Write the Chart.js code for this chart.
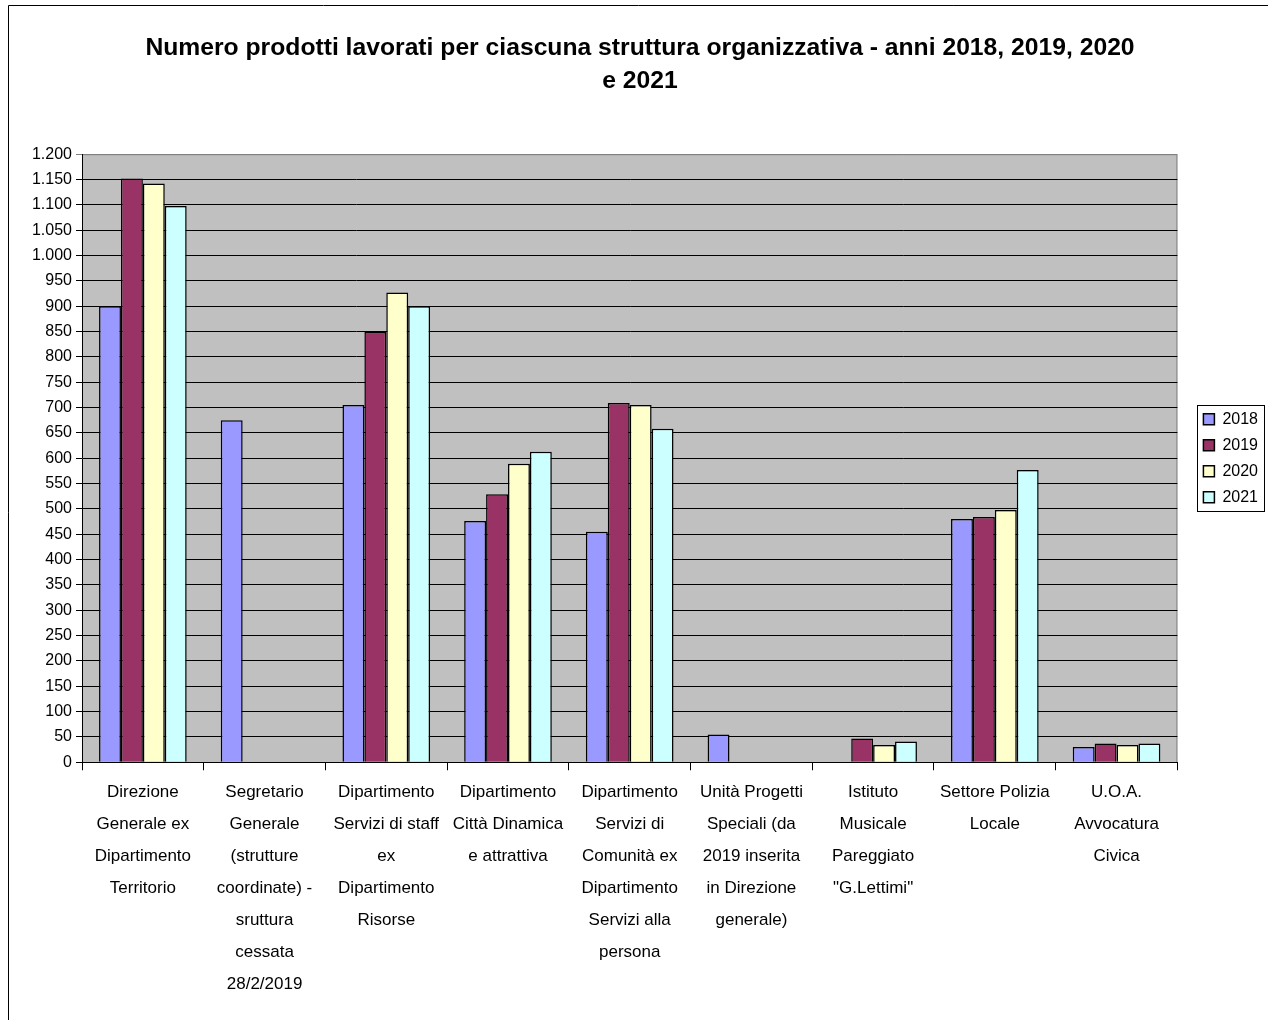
<!DOCTYPE html>
<html>
<head>
<meta charset="utf-8">
<script src="https://cdn.jsdelivr.net/npm/chart.js@4.4.1/dist/chart.umd.min.js"></script>
<style>
  html, body { margin: 0; padding: 0; background: #fff; }
  #wrap { width: 1268px; height: 1020px; }
</style>
</head>
<body>
<div id="wrap"><canvas id="grafico" width="1268" height="1020"></canvas></div>
<script>
// Strutture organizzative (etichette su più righe)
const categorie = [
  ["Direzione", "Generale ex", "Dipartimento", "Territorio"],
  ["Segretario", "Generale", "(strutture", "coordinate) -", "sruttura", "cessata", "28/2/2019"],
  ["Dipartimento", "Servizi di staff", "ex", "Dipartimento", "Risorse"],
  ["Dipartimento", "Città Dinamica", "e attrattiva"],
  ["Dipartimento", "Servizi di", "Comunità ex", "Dipartimento", "Servizi alla", "persona"],
  ["Unità Progetti", "Speciali (da", "2019 inserita", "in Direzione", "generale)"],
  ["Istituto", "Musicale", "Pareggiato", "\"G.Lettimi\""],
  ["Settore Polizia", "Locale"],
  ["U.O.A.", "Avvocatura", "Civica"]
];

// Valori
const anni = ["2018", "2019", "2020", "2021"];
const dati2018 = [900, 675, 705, 476, 455, 55, null, 480, 30];
const dati2019 = [1152, null, 849, 529, 709, null, 47, 484, 37];
const dati2020 = [1142, null, 927, 589, 705, null, 34, 498, 34];
const dati2021 = [1098, null, 900, 613, 658, null, 41, 577, 37];
const colori = ["#9999FF", "#993366", "#FFFFCC", "#CCFFFF"];

// Formato italiano con punto delle migliaia
function formatoIt(v) {
  return String(v).replace(/\B(?=(\d{3})+(?!\d))/g, ".");
}

Chart.defaults.font.family = "'Liberation Sans', Arial, sans-serif";
Chart.defaults.color = "#000";

// Sfondo grigio dell'area del grafico, cornice e bordo della legenda
const sfondo = {
  id: "sfondo",
  beforeDraw(chart) {
    const { ctx, chartArea: a } = chart;
    ctx.save();
    ctx.fillStyle = "#C0C0C0";
    ctx.fillRect(a.left, a.top, a.right - a.left, a.bottom - a.top);
    ctx.strokeStyle = "#808080";
    ctx.lineWidth = 1;
    ctx.beginPath();
    ctx.moveTo(a.left, a.top + 0.5);
    ctx.lineTo(a.right - 0.5, a.top + 0.5);
    ctx.lineTo(a.right - 0.5, a.bottom);
    ctx.stroke();
    // cornice esterna
    ctx.strokeStyle = "#000";
    ctx.beginPath();
    ctx.moveTo(8.5, 1020);
    ctx.lineTo(8.5, 5.5);
    ctx.lineTo(1268, 5.5);
    ctx.stroke();
    ctx.restore();
  },
  afterDraw(chart) {
    const boxes = chart.legend.legendHitBoxes;
    if (!boxes || !boxes.length) return;
    const x0 = Math.min(...boxes.map(b => b.left)) - 6;
    const y0 = Math.min(...boxes.map(b => b.top)) - 6;
    const x1 = Math.max(...boxes.map(b => b.left + b.width)) + 6;
    const y1 = Math.max(...boxes.map(b => b.top + b.height)) + 6;
    const ctx = chart.ctx;
    ctx.save();
    ctx.strokeStyle = "#000";
    ctx.lineWidth = 1;
    ctx.strokeRect(Math.round(x0) + 0.5, Math.round(y0) + 0.5, Math.round(x1 - x0), Math.round(y1 - y0));
    ctx.restore();
  }
};

const serie = [dati2018, dati2019, dati2020, dati2021].map((d, i) => ({
  label: anni[i],
  data: d,
  backgroundColor: colori[i],
  borderColor: "#000",
  borderWidth: 1.5,
  categoryPercentage: 0.72,
  barPercentage: 1
}));

new Chart(document.getElementById("grafico").getContext("2d"), {
  type: "bar",
  data: { labels: categorie, datasets: serie },
  plugins: [sfondo],
  options: {
    responsive: false,
    animation: false,
    layout: { padding: { top: 32, left: 12, right: 0, bottom: 14 } },
    plugins: {
      title: {
        display: true,
        text: ["Numero prodotti lavorati per ciascuna struttura organizzativa - anni 2018, 2019, 2020", "e 2021"],
        font: { size: 24.7, weight: "bold", lineHeight: 1.34 },
        padding: { top: 0, bottom: 56 }
      },
      legend: {
        position: "right",
        fullSize: false,
        labels: {
          boxWidth: 11,
          boxHeight: 11,
          padding: 10,
          font: { size: 16 },
          color: "#000"
        }
      },
      tooltip: { enabled: false }
    },
    scales: {
      x: {
        grid: {
          offset: true,
          drawOnChartArea: false,
          color: "#000",
          tickLength: 8
        },
        border: { color: "#000" },
        ticks: {
          font: { size: 17, lineHeight: 1.88 },
          maxRotation: 0,
          autoSkip: false,
          padding: 6
        }
      },
      y: {
        min: 0,
        max: 1200,
        grid: {
          color: (c) => (c.tick && c.tick.value === 1200 ? "#808080" : "#000"),
          tickLength: 6
        },
        border: { color: "#000" },
        ticks: {
          stepSize: 50,
          font: { size: 16 },
          padding: 4,
          callback: (v) => formatoIt(v)
        },
        afterFit: (scale) => { scale.width = 70; }
      },
      // asse invisibile: solo spazio tra area del grafico e legenda
      spazio: {
        position: "right",
        display: true,
        grid: { display: false },
        border: { display: false },
        ticks: { display: false },
        afterFit: (scale) => { scale.width = 16; }
      }
    }
  }
});
</script>
</body>
</html>
